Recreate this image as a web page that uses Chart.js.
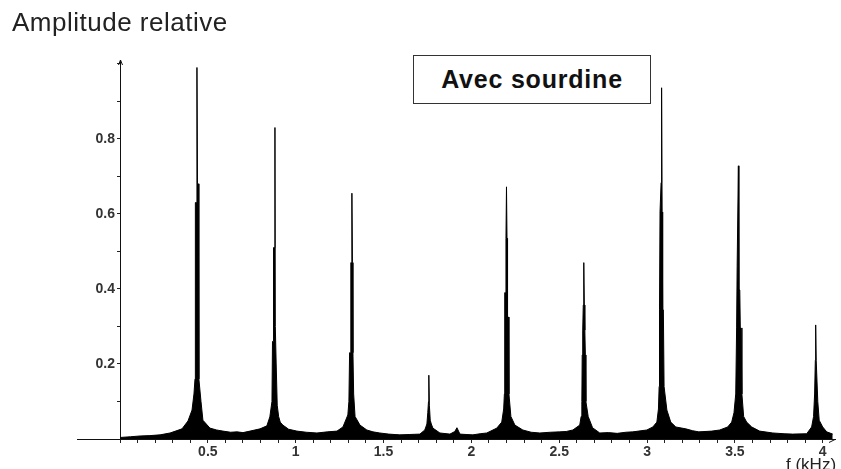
<!DOCTYPE html>
<html>
<head>
<meta charset="utf-8">
<title>Avec sourdine</title>
<script src="https://cdn.jsdelivr.net/npm/chart.js@4.4.0/dist/chart.umd.min.js"></script>
<style>
  body { margin: 0; background: #fff; }
  #wrap { position: relative; width: 841px; height: 469px; overflow: hidden; }
  #ytitle {
    position: absolute; left: 12px; top: 9px;
    font: 26px/26px "Liberation Sans", Arial, sans-serif;
    letter-spacing: 0.5px; color: #222;
  }
  #note {
    position: absolute; left: 413px; top: 55px; width: 236px; height: 47px;
    border: 1px solid #333; background: #fff;
    display: flex; align-items: center; justify-content: center;
    font: bold 25px "Liberation Sans", Arial, sans-serif;
    letter-spacing: 0.8px; color: #111;
  }
  #xtitle {
    position: absolute; left: 786px; top: 456px;
    font: 17px/17px "Liberation Sans", Arial, sans-serif; color: #222;
  }
</style>
</head>
<body>
<div id="wrap">
  <canvas id="myChart" width="841" height="469"></canvas>
  <div id="ytitle">Amplitude relative</div>
  <div id="note">Avec sourdine</div>
  <div id="xtitle">f (kHz)</div>
</div>
<script>
'use strict';

// spectrum: frequency in kHz / relative amplitude
// one line per stretch (baseline, then each harmonic of 0.44 kHz)
let freqKHz = [
  0.000, 0.060, 0.114, 0.170, 0.228, 0.285, 0.353, 0.387, 0.410, 0.421,
  0.427, 0.429, 0.435, 0.438, 0.441, 0.446, 0.449, 0.461, 0.472,
  0.512, 0.550, 0.586, 0.630, 0.666, 0.700, 0.740, 0.797, 0.836, 0.853,
  0.865, 0.868, 0.872, 0.874, 0.879, 0.882, 0.884, 0.889, 0.895, 0.903, 0.912,
  0.927, 0.960, 1.007, 1.060, 1.121, 1.180, 1.235, 1.269, 1.297,
  1.303, 1.307, 1.312, 1.314, 1.318, 1.320, 1.323, 1.326, 1.330, 1.338,
  1.366, 1.405, 1.440, 1.479, 1.530, 1.593, 1.650, 1.707, 1.735,
  1.747, 1.752, 1.756, 1.758, 1.761, 1.766, 1.772,
  1.781, 1.821, 1.878, 1.906, 1.918, 1.935, 1.970, 2.009, 2.050, 2.088, 2.145, 2.173,
  2.184, 2.188, 2.190, 2.195, 2.197, 2.200, 2.203, 2.206, 2.211, 2.214, 2.225,
  2.248, 2.293, 2.340, 2.390, 2.450, 2.503, 2.540, 2.578, 2.617,
  2.625, 2.629, 2.631, 2.634, 2.637, 2.640, 2.643, 2.646, 2.649, 2.652, 2.665,
  2.690, 2.731, 2.780, 2.830, 2.880, 2.919, 2.999, 3.033, 3.056,
  3.065, 3.069, 3.071, 3.074, 3.078, 3.080, 3.083, 3.086, 3.089, 3.093, 3.097, 3.113,
  3.135, 3.164, 3.221, 3.260, 3.295, 3.369, 3.414, 3.459, 3.482,
  3.495, 3.505, 3.510, 3.513, 3.517, 3.520, 3.523, 3.528, 3.531, 3.535, 3.540, 3.550,
  3.567, 3.596, 3.641, 3.716, 3.780, 3.829, 3.909, 3.937,
  3.948, 3.954, 3.958, 3.960, 3.963, 3.967, 3.972, 3.980,
  4.000, 4.023, 4.057
];
let amplitude = [
  0.004, 0.006, 0.008, 0.009, 0.011, 0.016, 0.027, 0.048, 0.077, 0.120,
  0.160, 0.630, 0.630, 0.990, 0.680, 0.680, 0.160, 0.100, 0.050,
  0.029, 0.024, 0.021, 0.018, 0.019, 0.017, 0.021, 0.027, 0.035, 0.059,
  0.100, 0.260, 0.260, 0.510, 0.510, 0.830, 0.300, 0.200, 0.090, 0.060, 0.045,
  0.037, 0.026, 0.021, 0.018, 0.016, 0.019, 0.021, 0.032, 0.064,
  0.100, 0.230, 0.230, 0.470, 0.470, 0.655, 0.470, 0.230, 0.120, 0.060,
  0.037, 0.024, 0.019, 0.016, 0.013, 0.011, 0.012, 0.013, 0.024,
  0.040, 0.070, 0.100, 0.170, 0.090, 0.050, 0.040,
  0.029, 0.016, 0.013, 0.020, 0.030, 0.013, 0.012, 0.011, 0.014, 0.016, 0.029, 0.045,
  0.080, 0.120, 0.390, 0.390, 0.535, 0.672, 0.535, 0.325, 0.325, 0.120, 0.060,
  0.037, 0.024, 0.018, 0.016, 0.018, 0.019, 0.020, 0.024, 0.037,
  0.060, 0.100, 0.224, 0.290, 0.357, 0.470, 0.357, 0.290, 0.224, 0.100, 0.060,
  0.030, 0.016, 0.017, 0.015, 0.018, 0.019, 0.024, 0.032, 0.045,
  0.080, 0.140, 0.344, 0.605, 0.605, 0.683, 0.936, 0.605, 0.344, 0.344, 0.140, 0.077,
  0.045, 0.032, 0.027, 0.022, 0.019, 0.021, 0.024, 0.032, 0.045,
  0.070, 0.120, 0.296, 0.459, 0.459, 0.728, 0.397, 0.397, 0.296, 0.296, 0.120, 0.060,
  0.045, 0.032, 0.021, 0.016, 0.014, 0.013, 0.014, 0.032,
  0.060, 0.120, 0.210, 0.304, 0.210, 0.210, 0.100, 0.050,
  0.032, 0.019, 0.013
];

let yTickLabels = [0.2, 0.4, 0.6, 0.8];
let xTickLabels = [0.5, 1, 1.5, 2, 2.5, 3, 3.5, 4];

let points = [];
for (let i = 0; i < freqKHz.length; i++) {
  points.push({ x: freqKHz[i], y: amplitude[i] });
}

function pickLabel(list, value) {
  for (let i = 0; i < list.length; i++) {
    if (Math.abs(list[i] - value) < 1e-6) {
      return String(list[i]);
    }
  }
  return '';
}

// arrow heads on both axes + the bit of f axis that runs left of the y axis
let axisArrows = {
  id: 'axisArrows',
  afterDraw(chart) {
    let ctx = chart.ctx;
    let left = Math.round(chart.chartArea.left) + 0.5;
    let top = chart.chartArea.top;
    let right = chart.chartArea.right;
    let bottom = Math.round(chart.chartArea.bottom) + 0.5;
    ctx.save();
    ctx.strokeStyle = '#111';
    ctx.lineWidth = 1;
    ctx.beginPath();
    ctx.moveTo(77, bottom);
    ctx.lineTo(left, bottom);
    ctx.moveTo(left - 2, top + 5);
    ctx.lineTo(left, top);
    ctx.lineTo(left + 2, top + 5);
    ctx.moveTo(right - 6, bottom + 3);
    ctx.lineTo(right, bottom);
    ctx.stroke();
    ctx.restore();
  }
};

let tickFont = { family: '"Liberation Sans", Arial, sans-serif', size: 14, weight: 'bold' };

let ctx = document.getElementById('myChart').getContext('2d');
let myChart = new Chart(ctx, {
  type: 'line',
  data: {
    datasets: [{
      data: points,
      borderColor: '#000',
      backgroundColor: '#000',
      borderWidth: 1,
      fill: 'origin',
      pointRadius: 0,
      tension: 0
    }]
  },
  options: {
    responsive: false,
    animation: false,
    layout: { padding: { left: 0, right: 6, top: 60, bottom: 0 } },
    plugins: {
      legend: { display: false },
      tooltip: { enabled: false }
    },
    scales: {
      x: {
        type: 'linear',
        min: 0,
        max: 4.07,
        afterFit: function (scale) { scale.height = 30; },
        afterBuildTicks: function (scale) {
          scale.ticks = scale.ticks.filter(t => t.value < 4.0001);
        },
        ticks: {
          stepSize: 0.1,
          autoSkip: false,
          maxRotation: 0,
          includeBounds: false,
          padding: 1,
          color: '#333',
          font: tickFont,
          callback: function (value) { return pickLabel(xTickLabels, value); }
        },
        grid: { drawOnChartArea: false, tickLength: 4, color: '#222' },
        border: { color: '#111', width: 1 }
      },
      y: {
        type: 'linear',
        position: 'left',
        min: 0,
        max: 1.01,
        afterFit: function (scale) { scale.width = 120; },
        ticks: {
          stepSize: 0.05,
          includeBounds: false,
          padding: 2,
          color: '#333',
          font: tickFont,
          callback: function (value) { return pickLabel(yTickLabels, value); }
        },
        grid: { drawOnChartArea: false, tickLength: 3, color: '#222' },
        border: { color: '#111', width: 1 }
      }
    }
  },
  plugins: [axisArrows]
});
</script>
</body>
</html>
